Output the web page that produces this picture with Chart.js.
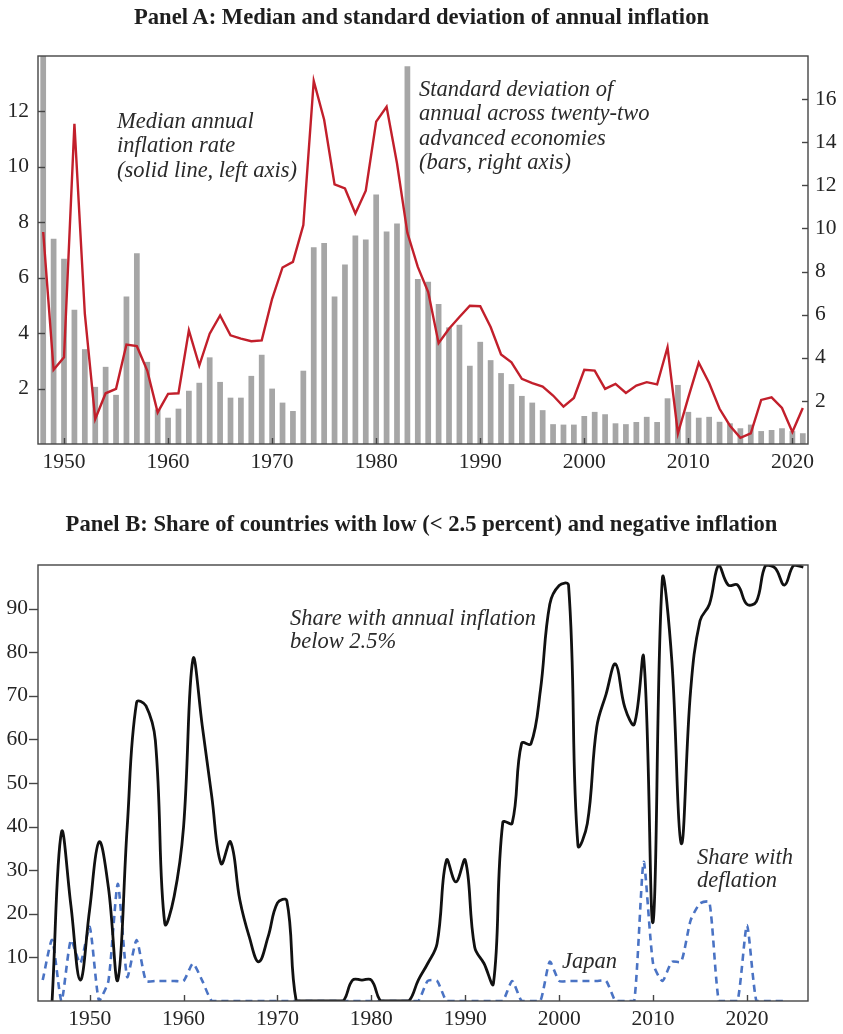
<!DOCTYPE html>
<html><head><meta charset="utf-8">
<script src="https://cdn.jsdelivr.net/npm/chart.js@4.4.1/dist/chart.umd.min.js"></script>
<style>
html,body{margin:0;padding:0;background:#fff}
body{width:843px;height:1034px;overflow:hidden;position:relative;font-family:"Liberation Serif","Times New Roman",serif;color:#222}
canvas{position:absolute;left:0}
.title{position:absolute;left:0;width:843px;text-align:center;font-weight:bold;font-size:22.6px;line-height:24.5px;white-space:nowrap;color:#1e1e1e}
.note{position:absolute;font-style:italic;font-size:22.5px;line-height:24.4px;white-space:nowrap;color:#2a2a2a}
</style></head><body>
<canvas id="ca" width="843" height="480" style="top:0"></canvas>
<canvas id="cb" width="843" height="544" style="top:490px"></canvas>
<div class="title" style="top:5px">Panel A: Median and standard deviation of annual inflation</div>
<div class="title" style="top:512px">Panel B: Share of countries with low (&lt; 2.5 percent) and negative inflation</div>
<div class="note" style="left:117px;top:109px">Median annual<br>inflation rate<br>(solid line, left axis)</div>
<div class="note" style="left:419px;top:77px">Standard deviation of<br>annual across twenty-two<br>advanced economies<br>(bars, right axis)</div>
<div class="note" style="left:290px;top:607px;line-height:22.6px">Share with annual inflation<br>below 2.5%</div>
<div class="note" style="left:697px;top:845px;line-height:23.3px">Share with<br>deflation</div>
<div class="note" style="left:562px;top:949px">Japan</div>
<script>
// ---------- Panel A data ----------
const yearsA = Array.from({length: 74}, (_, i) => 1948 + i); // 1948..2021
const medianInflation = [
  7.65, 2.68, 3.13, 11.55, 4.7, 0.9, 1.83, 1.99, 3.59, 3.53,
  2.65, 1.14, 1.81, 1.83, 4.1, 2.83, 3.98, 4.64, 3.92, 3.80,
  3.71, 3.74, 5.24, 6.37, 6.57, 7.9, 13.1, 11.7, 9.37, 9.22,
  8.32, 9.14, 11.63, 12.17, 10.13, 7.62, 6.39, 5.48, 3.64, 4.16,
  4.58, 4.99, 4.97, 4.22, 3.23, 2.95, 2.35, 2.2, 2.07, 1.75,
  1.35, 1.66, 2.68, 2.65, 1.99, 2.17, 1.84, 2.11, 2.23, 2.15,
  3.49, 0.38, 1.68, 2.93, 2.2, 1.27, 0.66, 0.22, 0.38, 1.59,
  1.68, 1.3, 0.43, 1.3
];
const stdDevInflation = [
  19, 9.52, 8.59, 6.23, 4.4, 2.65, 3.58, 2.28, 6.84, 8.85,
  3.81, 1.6, 1.22, 1.64, 2.47, 2.84, 4.02, 2.88, 2.15, 2.15,
  3.16, 4.14, 2.57, 1.92, 1.53, 3.4, 9.13, 9.32, 6.84, 8.33,
  9.67, 9.49, 11.58, 9.86, 10.23, 17.53, 7.66, 7.53, 6.5, 5.41,
  5.53, 3.63, 4.74, 3.89, 3.29, 2.78, 2.23, 1.92, 1.57, 0.92,
  0.9, 0.9, 1.3, 1.49, 1.38, 0.96, 0.92, 1.02, 1.26, 1.02,
  2.12, 2.74, 1.49, 1.22, 1.26, 1.03, 0.96, 0.73, 0.9, 0.6,
  0.65, 0.73, 0.6, 0.5
];
const xTicksA = [1950, 1960, 1970, 1980, 1990, 2000, 2010, 2020];
const leftTicksA = [2, 4, 6, 8, 10, 12];
const rightTicksA = [2, 4, 6, 8, 10, 12, 14, 16];

// ---------- Panel B data ----------
const yearsLow = Array.from({length: 81}, (_, i) => 1946 + i); // 1946..2026
const shareLow = [
  0, 38.7, 22, 4.8, 21, 36.5, 26, 4.8, 39.9, 68.5,
  67.7, 59.7, 17.8, 24, 39.9, 78.4, 63, 47, 31.5, 36.5,
  23.1, 14.7, 9, 14.7, 22.5, 23, 0, 0, 0, 0,
  0, 0, 4.8, 4.8, 4.8, 0, 0, 0, 0, 4.8,
  8.6, 13.2, 32.3, 27.3, 32.3, 12.4, 8.6, 4, 41, 40.8,
  59.1, 59, 71.2, 91, 95.3, 95.4, 35.7, 40.7, 62.8, 70.4,
  77.3, 67.3, 63.5, 78.8, 18.1, 97.1, 78, 36.1, 71.2, 87.2,
  91, 100, 95.4, 95.4, 91, 91.6, 100, 99.3, 95.4, 100, 99.5
];
const yearsDefl = Array.from({length: 80}, (_, i) => 1945 + i); // 1945..2024
const shareDeflation = [
  4.8, 14, 0, 14, 8.6, 17, 0, 4.6, 26.9, 5.5,
  14, 4.6, 4.6, 4.6, 4.6, 4.6, 8.6, 4.6, 0, 0,
  0, 0, 0, 0, 0, 0, 0, 0, 0, 0,
  0, 0, 0, 0, 0, 0, 0, 0, 0, 0,
  0, 4.6, 4.6, 0, 0, 0, 0, 0, 0, 0,
  4.6, 0, 0, 0, 9, 4.6, 4.6, 4.6, 4.6, 4.6,
  4.6, 0, 0, 0, 31.9, 8.6, 4.6, 9, 9, 18.5,
  22.4, 22.7, 0, 0, 0, 17.4, 0, 0, 0, 0
];
const xTicksB = [1950, 1960, 1970, 1980, 1990, 2000, 2010, 2020];
const yTicksB = [10, 20, 30, 40, 50, 60, 70, 80, 90];

// ---------- helpers ----------
const FONT = "'Liberation Serif', 'Times New Roman', serif";
const tickFont = {family: FONT, size: 21.5};
const TXT = '#252525';
const FRAME = '#454545';

const framePlugin = {
  id: 'frame',
  afterDraw(chart, args, opts) {
    const {ctx, chartArea: a} = chart;
    ctx.save();
    ctx.strokeStyle = FRAME;
    ctx.lineWidth = 1.4;
    ctx.strokeRect(a.left, a.top, a.right - a.left, a.bottom - a.top);
    (opts.marks || []).forEach(spec => {
      const s = chart.scales[spec.id];
      s.ticks.forEach(t => {
        const p = Math.round(s.getPixelForValue(t.value)) + 0.5;
        ctx.beginPath();
        if (spec.side === 'bottom') { ctx.moveTo(p, a.bottom); ctx.lineTo(p, a.bottom - spec.len); }
        else if (spec.side === 'left') { ctx.moveTo(a.left, p); ctx.lineTo(a.left + spec.len, p); }
        else if (spec.side === 'leftOut') { ctx.moveTo(a.left, p); ctx.lineTo(a.left - spec.len, p); }
        else { ctx.moveTo(a.right, p); ctx.lineTo(a.right - spec.len, p); }
        ctx.stroke();
      });
    });
    ctx.restore();
  }
};

function setTicks(list) { return s => { s.ticks = list.map(v => ({value: v})); }; }
function axisBase(extra) {
  return Object.assign({
    grid: {display: false, drawTicks: false, offset: false},
    border: {display: false},
    offset: false
  }, extra);
}

// ---------- Panel A ----------
new Chart(document.getElementById('ca'), {
  type: 'bar',
  data: {
    datasets: [
      {
        type: 'line',
        label: 'Median annual inflation',
        data: yearsA.map((y, i) => ({x: y, y: medianInflation[i]})),
        yAxisID: 'y',
        borderColor: '#c21f2b',
        borderWidth: 2.4,
        pointRadius: 0,
        tension: 0,
        fill: false
      },
      {
        type: 'bar',
        label: 'Standard deviation',
        data: yearsA.map((y, i) => ({x: y, y: stdDevInflation[i]})),
        yAxisID: 'y2',
        backgroundColor: '#a6a6a6',
        borderWidth: 0,
        barPercentage: 0.55,
        categoryPercentage: 1
      }
    ]
  },
  options: {
    responsive: false,
    devicePixelRatio: 1,
    animation: false,
    layout: {padding: {top: 56, left: 0, right: 0, bottom: 0}},
    plugins: {
      legend: {display: false},
      tooltip: {enabled: false},
      frame: {marks: [
        {id: 'x', side: 'bottom', len: 6},
        {id: 'y', side: 'left', len: 7},
        {id: 'y2', side: 'right', len: 6}
      ]}
    },
    scales: {
      x: axisBase({
        type: 'linear', min: 1947.5, max: 2021.5,
        afterBuildTicks: setTicks(xTicksA),
        afterFit: s => { s.height = 36; },
        ticks: {font: tickFont, color: TXT, padding: 5, maxRotation: 0, autoSkip: false, callback: v => String(v)}
      }),
      y: axisBase({
        position: 'left', min: 0, max: 14,
        afterBuildTicks: setTicks(leftTicksA),
        afterFit: s => { s.width = 38; },
        ticks: {font: tickFont, color: TXT, padding: 9, callback: v => String(v)}
      }),
      y2: axisBase({
        position: 'right', min: 0, max: 18,
        afterBuildTicks: setTicks(rightTicksA),
        afterFit: s => { s.width = 35; },
        ticks: {font: tickFont, color: TXT, padding: 7, callback: v => String(v)}
      })
    }
  },
  plugins: [framePlugin]
});

// ---------- Panel B ----------
new Chart(document.getElementById('cb'), {
  type: 'line',
  data: {
    datasets: [
      {
        label: 'Share with annual inflation below 2.5%',
        data: yearsLow.map((y, i) => ({x: y, y: shareLow[i]})),
        borderColor: '#111111',
        borderWidth: 2.8,
        pointRadius: 0,
        tension: 0.4,
        fill: false
      },
      {
        label: 'Japan / share with deflation',
        data: yearsDefl.map((y, i) => ({x: y, y: shareDeflation[i]})),
        borderColor: '#4a73c4',
        borderWidth: 2.6,
        borderDash: [7, 5],
        pointRadius: 0,
        tension: 0.2,
        fill: false
      }
    ]
  },
  options: {
    responsive: false,
    devicePixelRatio: 1,
    animation: false,
    layout: {padding: {top: 75, left: 0, right: 35, bottom: 0}},
    plugins: {
      legend: {display: false},
      tooltip: {enabled: false},
      frame: {marks: [
        {id: 'x', side: 'bottom', len: 6},
        {id: 'y', side: 'leftOut', len: 9}
      ]}
    },
    scales: {
      x: axisBase({
        type: 'linear', min: 1944.5, max: 2026.5,
        afterBuildTicks: setTicks(xTicksB),
        afterFit: s => { s.height = 33; },
        ticks: {font: tickFont, color: TXT, padding: 5, maxRotation: 0, autoSkip: false, callback: v => String(v)}
      }),
      y: axisBase({
        position: 'left', min: 0, max: 100,
        afterBuildTicks: setTicks(yTicksB),
        afterFit: s => { s.width = 38; },
        ticks: {font: tickFont, color: TXT, padding: 10, callback: v => String(v)}
      })
    }
  },
  plugins: [framePlugin]
});
</script>
</body></html>
